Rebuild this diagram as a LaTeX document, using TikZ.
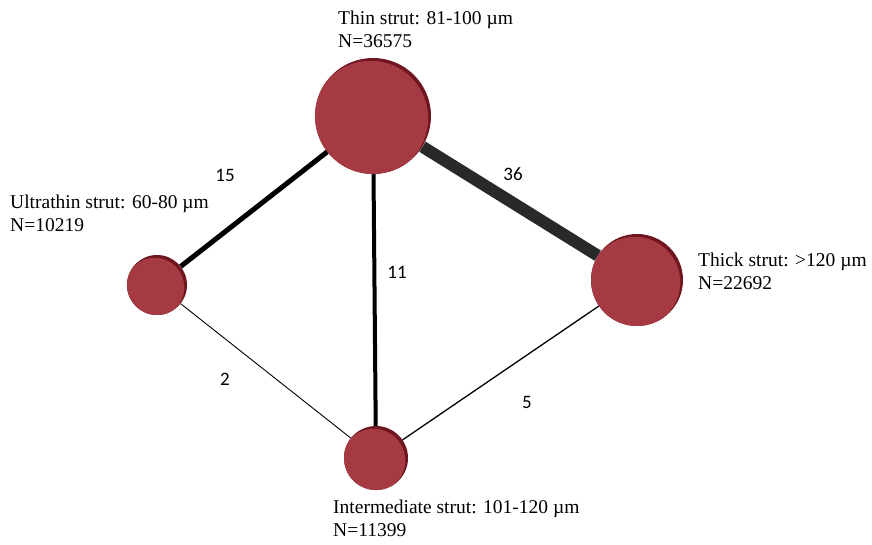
\documentclass[tikz,border=0pt]{standalone}
\usepackage{fontspec}
\setmainfont{Liberation Serif}
\newfontfamily\numfont{Carlito}
\usetikzlibrary{calc}
\definecolor{strutred}{RGB}{165,58,66}
\definecolor{strutrim}{RGB}{112,22,32}
\definecolor{thickedge}{RGB}{40,42,42}

\begin{document}
\begin{tikzpicture}[
  x=1pt, y=-1pt,
  strut/.style={circle, inner sep=0, minimum size=#1, fill=strutrim,
    path picture={\fill[strutred] let \p1=(path picture bounding box.north east),
      \p2=(path picture bounding box.south west) in
      ($(\p1)!0.5!(\p2)+(-2.4pt,-2.4pt)$) circle ({(\x1-\x2)/2-0.4pt});}},
  strutlabel/.style={anchor=north west, inner sep=0, align=left,
    font=\fontsize{19.5}{23}\selectfont},
  weight/.style={font=\numfont\fontsize{19}{22}\selectfont, inner sep=0},
]
\useasboundingbox (0,0) rectangle (872,544);
% noeuds
\node[strut=116pt] (thin) at (373,116) {};
\node[strut=60pt] (ultrathin) at (157,285) {};
\node[strut=64pt] (intermediate) at (376,458) {};
\node[strut=92pt] (thick) at (637,280) {};
% aretes, epaisseur selon le nombre d'etudes
\draw[line width=12pt, thickedge] (thin) -- (thick);
\draw[line width=5pt] (thin) -- (ultrathin);
\draw[line width=4pt] (thin) -- (intermediate);
\draw[line width=0.9pt] (ultrathin) -- (intermediate);
\draw[line width=1.3pt] (thick) -- (intermediate);
\node[weight] (w15) at (225,175) {15};
\node[weight] (w36) at (513,174) {36};
\node[weight] (w11) at (397,272) {11};
\node[weight] (w2) at (225,379) {2};
\node[weight] (w5) at (527,402) {5};
% etiquettes
\node[strutlabel] (thinlabel) at (338,10.5) {Thin strut: 81-100 µm\\N=36575};
\node[strutlabel] (ultrathinlabel) at (10,195) {Ultrathin strut: 60-80 µm\\N=10219};
\node[strutlabel] (intermediatelabel) at (333,499.5) {Intermediate strut: 101-120 µm\\N=11399};
\node[strutlabel] (thicklabel) at (698,253) {Thick strut: >120 µm\\N=22692};
\end{tikzpicture}
\end{document}
